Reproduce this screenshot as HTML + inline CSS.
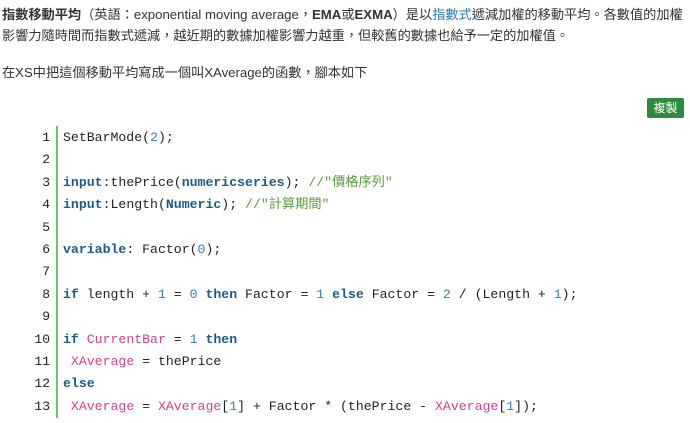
<!DOCTYPE html>
<html><head><meta charset="utf-8"><style>
body{margin:0;width:690px;height:423px;background:#fff;overflow:hidden;font-family:"Liberation Sans","Noto Sans CJK TC",sans-serif;color:#333;}
.p{position:absolute;left:2px;font-size:13.2px;line-height:18px;white-space:nowrap;}
.btn{position:absolute;left:647px;top:98px;width:37px;height:20px;background:#2e8b3e;color:#fff;font-size:12px;line-height:20px;text-align:center;border-radius:2px;}
.bar{position:absolute;left:56px;top:126px;width:2px;height:292px;background:#6cc66c;}
.ln{position:absolute;width:50px;text-align:right;left:0;font-family:"Liberation Mono",monospace;font-size:13px;line-height:16px;color:#222;}
.cd{position:absolute;left:63px;font-family:"Liberation Mono","Noto Sans CJK TC",monospace;font-size:13.2px;line-height:16px;color:#222;white-space:pre;}
.k{color:#1d5b87;font-weight:bold}.n{color:#2f7fc1}.m{color:#d63f8c}.c{color:#5a9a3a}
</style></head><body>
<div class="p" style="top:6px"><b>指數移動平均</b>（英語：exponential moving average，<b>EMA</b>或<b>EXMA</b>）是以<span style="color:#2a7ab5">指數式</span>遞減加權的移動平均。各數值的加權</div>
<div class="p" style="top:27px">影響力隨時間而指數式遞減，越近期的數據加權影響力越重，但較舊的數據也給予一定的加權值。</div>
<div class="p" style="top:64px">在XS中把這個移動平均寫成一個叫XAverage的函數，腳本如下</div>
<div class="btn">複製</div>
<div class="bar"></div>
<div class="ln" style="top:130px">1</div><div class="cd" style="top:130px">SetBarMode(<span class="n">2</span>);</div>
<div class="ln" style="top:152px">2</div>
<div class="ln" style="top:175px">3</div><div class="cd" style="top:175px"><span class="k">input</span>:thePrice(<span class="k">numericseries</span>); <span class="c">//"價格序列"</span></div>
<div class="ln" style="top:197px">4</div><div class="cd" style="top:197px"><span class="k">input</span>:Length(<span class="k">Numeric</span>); <span class="c">//"計算期間"</span></div>
<div class="ln" style="top:220px">5</div>
<div class="ln" style="top:242px">6</div><div class="cd" style="top:242px"><span class="k">variable</span>: Factor(<span class="n">0</span>);</div>
<div class="ln" style="top:264px">7</div>
<div class="ln" style="top:287px">8</div><div class="cd" style="top:287px"><span class="k">if</span> length + <span class="n">1</span> = <span class="n">0</span> <span class="k">then</span> Factor = <span class="n">1</span> <span class="k">else</span> Factor = <span class="n">2</span> / (Length + <span class="n">1</span>);</div>
<div class="ln" style="top:309px">9</div>
<div class="ln" style="top:332px">10</div><div class="cd" style="top:332px"><span class="k">if</span> <span class="m">CurrentBar</span> = <span class="n">1</span> <span class="k">then</span></div>
<div class="ln" style="top:354px">11</div><div class="cd" style="top:354px"> <span class="m">XAverage</span> = thePrice</div>
<div class="ln" style="top:376px">12</div><div class="cd" style="top:376px"><span class="k">else</span></div>
<div class="ln" style="top:399px">13</div><div class="cd" style="top:399px"> <span class="m">XAverage</span> = <span class="m">XAverage</span>[<span class="n">1</span>] + Factor * (thePrice - <span class="m">XAverage</span>[<span class="n">1</span>]);</div>
</body></html>
